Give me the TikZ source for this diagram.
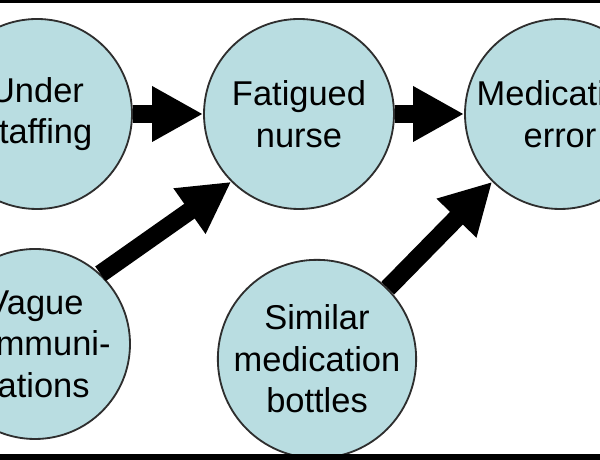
\documentclass[tikz,border=0pt]{standalone}
\usepackage{fontspec}
\setmainfont{Liberation Sans}
\usetikzlibrary{arrows.meta}

\begin{document}
\begin{tikzpicture}[x=1cm, y=1cm]
    % --- Colors ---
    \definecolor{causefill}{HTML}{B9DDE1}
    \definecolor{causeline}{HTML}{2E2E2E}
    \tikzset{
        cause/.style={circle, draw=causeline, line width=1.3pt, fill=causefill,
            minimum size=4.75cm, inner sep=0pt, align=center,
            font=\fontsize{24.5}{29.5}\selectfont},
        bigarrow/.style={line width=0.45cm, -{Triangle[width=1.3cm, length=1.275cm]}}
    }

    % --- Visible window (the figure is cut at the sides) ---
    \clip (0,0) rectangle (15,11.5);
    \fill[white] (0,0) rectangle (15,11.5);

    % --- Top row: causes and effect ---
    \node[cause] (understaffing) at (0.925,8.65) {Under\\staffing};
    \node[cause] (fatigued) at (7.475,8.65) {Fatigued\\nurse};
    \node[cause] (medication) at (14.0,8.65) {Medication\\error};

    % --- Bottom row: contributing factors ---
    \node[cause] (vague) at (0.875,2.9) {Vague\\communi-\\cations};
    \node[cause] (similar) at (7.925,2.525) {Similar\\medication\\bottles};

    % --- Arrows ---
    \draw[bigarrow] (understaffing) -- (fatigued);
    \draw[bigarrow] (fatigued) -- (medication);
    \draw[bigarrow] (vague.47) -- (fatigued.225);
    \draw[bigarrow] (similar.45) -- (medication.225);

    % --- Frame lines ---
    \fill[black] (0,11.43) rectangle (15,11.5);
    \fill[black] (0,0) rectangle (15,0.14);
\end{tikzpicture}
\end{document}
